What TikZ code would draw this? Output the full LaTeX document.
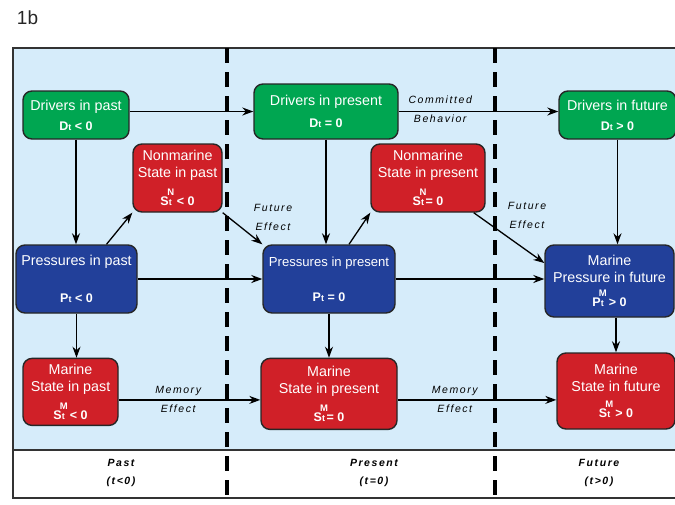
\documentclass[tikz,border=0pt]{standalone}
\usepackage{fontspec}
\setmainfont{Liberation Sans}
\newfontfamily\handfont[LetterSpace=15]{Liberation Sans}
\usepackage{tikz}
\usetikzlibrary{arrows.meta, positioning}

\definecolor{drvgreen}{RGB}{0,166,81}
\definecolor{stared}{RGB}{208,32,40}
\definecolor{prsblue}{RGB}{34,64,154}
\definecolor{skyback}{RGB}{214,236,250}

\newcommand{\frm}{\fontsize{12.5}{14}\selectfont\bfseries}
\newcommand{\tidx}{{\fontsize{9}{9}\selectfont t}}
\newcommand{\tidxup}[1]{\rlap{\hspace{1.9pt}\makebox[0pt]{\raisebox{10pt}{\fontsize{9.5}{9.5}\selectfont #1}}}\tidx\hspace{1.5pt}}

\begin{document}
\begin{tikzpicture}[x=1pt, y=-1pt, >={Stealth[length=11pt, width=8pt]}, line width=1.3pt,
    box/.style={draw=black!85, line width=1.4pt, rounded corners=9pt, text=white, align=center, inner sep=0pt, font=\fontsize{14.3}{17}\selectfont},
    drvbox/.style={box, fill=drvgreen},
    prsbox/.style={box, fill=prsblue},
    stabox/.style={box, fill=stared},
    note/.style={align=center, font=\handfont\itshape\fontsize{10.5}{19}\selectfont},
    period/.style={align=center, font=\handfont\bfseries\itshape\fontsize{10.5}{18}\selectfont},
    divider/.style={line width=3.2pt, dash pattern=on 15pt off 9pt}]

        \useasboundingbox (0,0) rectangle (675,504);
        \clip (0,0) rectangle (675,504);

        % Frame and time strip
        \fill[skyback] (13,48) rectangle (690,450);
        \draw[line width=1.5pt, black!80] (13,48) rectangle (690,498);
        \draw[line width=1.5pt, black!80] (13,450) -- (690,450);
        \draw[divider] (227,48) -- (227,498);
        \draw[divider] (495,48) -- (495,498);

        \node[anchor=west, font=\fontsize{19}{20}\selectfont, text=black!85] (figlabel) at (13,18) {1b};

        % Drivers
        \node[drvbox, minimum width=106pt, minimum height=48pt] (dpast) at (76,115) {Drivers in past\\[3pt]{\frm D\tidx\ < 0}};
        \node[drvbox, minimum width=144pt, minimum height=55pt] (dpres) at (326,111.5) {Drivers in present\\[5pt]{\frm D\tidx\ = 0}};
        \node[drvbox, minimum width=117pt, minimum height=48pt] (dfut) at (617.5,115) {Drivers in future\\[3pt]{\frm D\tidx\ > 0}};

        % Nonmarine states
        \node[stabox, minimum width=89pt, minimum height=68pt] (nmpast) at (177.5,178) {Nonmarine\\State in past\\[7.5pt]{\frm S\tidxup{N}\ < 0}};
        \node[stabox, minimum width=114pt, minimum height=68pt] (nmpres) at (428,178) {Nonmarine\\State in present\\[7.5pt]{\frm S\tidxup{N}= 0}};

        % Pressures
        \node[prsbox, minimum width=121pt, minimum height=68pt] (ppast) at (76.5,279) {Pressures in past\\[20pt]{\frm P\tidx\ < 0}};
        \node[prsbox, minimum width=132pt, minimum height=68pt, font=\fontsize{13.1}{16}\selectfont] (ppres) at (329,279) {Pressures in present\\[19pt]{\frm P\tidx\ = 0}};
        \node[prsbox, minimum width=129pt, minimum height=72pt] (mpfut) at (609.5,281) {Marine\\Pressure in future\\[7.5pt]{\frm P\tidxup{M}\ > 0}};

        % Marine states
        \node[stabox, minimum width=95pt, minimum height=67pt, below=44pt of ppast, xshift=-6pt] (mspast) {Marine\\State in past\\[7.5pt]{\frm S\tidxup{M}\ < 0}};
        \node[stabox, minimum width=136pt, minimum height=71pt, below=44pt of ppres] (mspres) {Marine\\State in present\\[7.5pt]{\frm S\tidxup{M}= 0}};
        \node[stabox, minimum width=118pt, minimum height=76pt] (msfut) at (616,391) {Marine\\State in future\\[8.5pt]{\frm S\tidxup{M}\ > 0}};

        % Arrows
        \draw[->] (dpast.east |- dpres.west) -- (dpres.west);
        \draw[->] (dpres.east) -- (dpres.east -| dfut.west) node[note, pos=0.26, yshift=2pt] (commit) {Committed\\Behavior};
        \draw[->] (dpast.south) -- (dpast.south |- ppast.north);
        \draw[->] ([xshift=30pt]ppast.north) -- (nmpast.south west);
        \draw[->] (nmpast.south east) -- (ppres.north west);
        \node[note] (fut1) at (273,217) {Future\\Effect};
        \draw[->] (dpres.south) -- (dpres.south |- ppres.north);
        \draw[->] ([xshift=20pt]ppres.north) -- (nmpres.south west);
        \draw[->] ([xshift=-12pt]nmpres.south east) -- ([yshift=18pt]mpfut.west);
        \node[note] (fut2) at (527,215) {Future\\Effect};
        \draw[->] (dfut.south) -- (dfut.south |- mpfut.north);
        \draw[->] (ppast.east) -- (ppres.west);
        \draw[->] (ppres.east) -- (ppres.east -| mpfut.west);
        \draw[->] (ppast.south) -- (ppast.south |- mspast.north);
        \draw[->] (ppres.south) -- (ppres.south |- mspres.north);
        \draw[->] (mpfut.south -| msfut.north) -- (msfut.north);
        \draw[->] ([yshift=-8pt]mspast.east) -- ([yshift=-8pt]mspast.east -| mspres.west) node[note, pos=0.42] (mem1) {Memory\\Effect};
        \draw[->] ([yshift=-6pt]mspres.east) -- ([yshift=-6pt]mspres.east -| msfut.west) node[note, pos=0.36] (mem2) {Memory\\Effect};

        % Time periods
        \node[period] (past) at (121,473) {Past\\(t<0)};
        \node[period] (present) at (374,473) {Present\\(t=0)};
        \node[period] (future) at (599,473) {Future\\(t>0)};

    \end{tikzpicture}
\end{document}
